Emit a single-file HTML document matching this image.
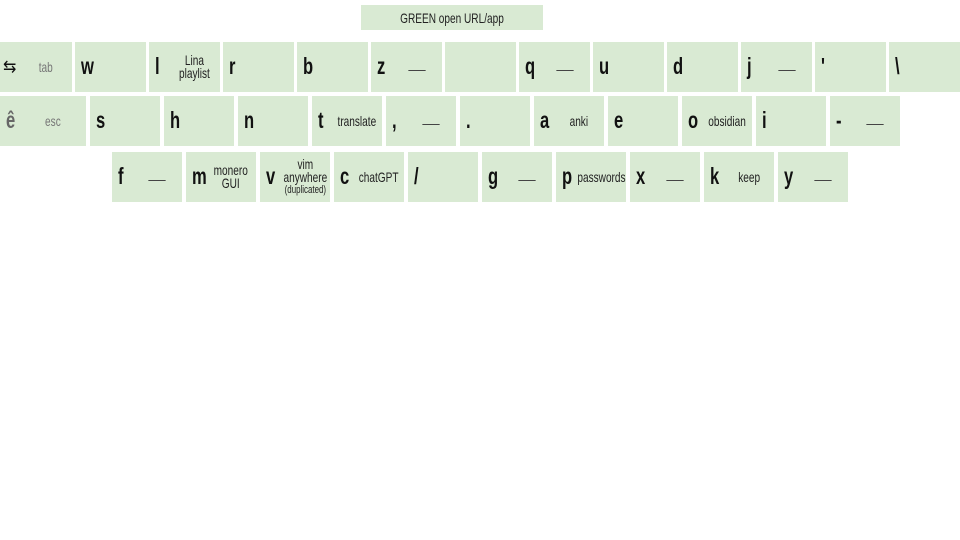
<!DOCTYPE html>
<html><head><meta charset="utf-8"><style>
body{margin:0;width:960px;height:540px;background:#fff;position:relative;overflow:hidden;font-family:"Liberation Sans Narrow","Liberation Sans",sans-serif;}
.k{position:absolute;height:50px;background:#d9ead3;}
.k b{position:absolute;left:6px;top:11px;font-size:23px;font-weight:bold;color:#111;transform:scaleX(.72);transform-origin:left;}
.k span{position:absolute;left:22px;right:2px;top:0;bottom:0;display:flex;align-items:center;justify-content:center;text-align:center;color:#222;}
.k span i{font-style:normal;display:block;font-size:14px;line-height:13px;transform:scaleX(.72);white-space:nowrap;}
.k span i small{display:block;font-size:11px;line-height:13px;}
.g i{color:#777}
.d i{display:block;width:24px;height:1px;background:#444;transform:none;margin-top:6px}
.t{position:absolute;left:361px;top:5px;width:182px;height:25px;background:#d9ead3;display:flex;align-items:center;justify-content:center;color:#222;}
.t i{font-style:normal;font-size:14px;transform:scaleX(.72);white-space:nowrap}
</style></head><body>
<div class="t"><i>GREEN open URL/app</i></div>
<!-- row1 -->
<div class="k" style="left:0;top:42px;width:72px"><b style="font-size:16px;top:15px;left:3px;font-weight:normal;transform:none">⇆</b><span class="g"><i>tab</i></span></div>
<div class="k" style="left:75px;top:42px;width:71px"><b>w</b></div>
<div class="k" style="left:149px;top:42px;width:71px"><b>l</b><span><i>Lina<br>playlist</i></span></div>
<div class="k" style="left:223px;top:42px;width:71px"><b>r</b></div>
<div class="k" style="left:297px;top:42px;width:71px"><b>b</b></div>
<div class="k" style="left:371px;top:42px;width:71px"><b>z</b><span class="d"><i></i></span></div>
<div class="k" style="left:445px;top:42px;width:71px"></div>
<div class="k" style="left:519px;top:42px;width:71px"><b>q</b><span class="d"><i></i></span></div>
<div class="k" style="left:593px;top:42px;width:71px"><b>u</b></div>
<div class="k" style="left:667px;top:42px;width:71px"><b>d</b></div>
<div class="k" style="left:741px;top:42px;width:71px"><b>j</b><span class="d"><i></i></span></div>
<div class="k" style="left:815px;top:42px;width:71px"><b>'</b></div>
<div class="k" style="left:889px;top:42px;width:71px"><b>\</b></div>
<!-- row2 -->
<div class="k" style="left:0;top:96px;width:86px"><b style="color:#666">ê</b><span class="g"><i>esc</i></span></div>
<div class="k" style="left:90px;top:96px;width:70px"><b>s</b></div>
<div class="k" style="left:164px;top:96px;width:70px"><b>h</b></div>
<div class="k" style="left:238px;top:96px;width:70px"><b>n</b></div>
<div class="k" style="left:312px;top:96px;width:70px"><b>t</b><span><i>translate</i></span></div>
<div class="k" style="left:386px;top:96px;width:70px"><b>,</b><span class="d"><i></i></span></div>
<div class="k" style="left:460px;top:96px;width:70px"><b>.</b></div>
<div class="k" style="left:534px;top:96px;width:70px"><b>a</b><span><i>anki</i></span></div>
<div class="k" style="left:608px;top:96px;width:70px"><b>e</b></div>
<div class="k" style="left:682px;top:96px;width:70px"><b>o</b><span><i>obsidian</i></span></div>
<div class="k" style="left:756px;top:96px;width:70px"><b>i</b></div>
<div class="k" style="left:830px;top:96px;width:70px"><b>-</b><span class="d"><i></i></span></div>
<!-- row3 -->
<div class="k" style="left:112px;top:152px;width:70px"><b>f</b><span class="d"><i></i></span></div>
<div class="k" style="left:186px;top:152px;width:70px"><b>m</b><span><i>monero<br>GUI</i></span></div>
<div class="k" style="left:260px;top:152px;width:70px"><b>v</b><span><i>vim<br>anywhere<small>(duplicated)</small></i></span></div>
<div class="k" style="left:334px;top:152px;width:70px"><b>c</b><span><i>chatGPT</i></span></div>
<div class="k" style="left:408px;top:152px;width:70px"><b>/</b></div>
<div class="k" style="left:482px;top:152px;width:70px"><b>g</b><span class="d"><i></i></span></div>
<div class="k" style="left:556px;top:152px;width:70px"><b>p</b><span><i>passwords</i></span></div>
<div class="k" style="left:630px;top:152px;width:70px"><b>x</b><span class="d"><i></i></span></div>
<div class="k" style="left:704px;top:152px;width:70px"><b>k</b><span><i>keep</i></span></div>
<div class="k" style="left:778px;top:152px;width:70px"><b>y</b><span class="d"><i></i></span></div>
</body></html>
